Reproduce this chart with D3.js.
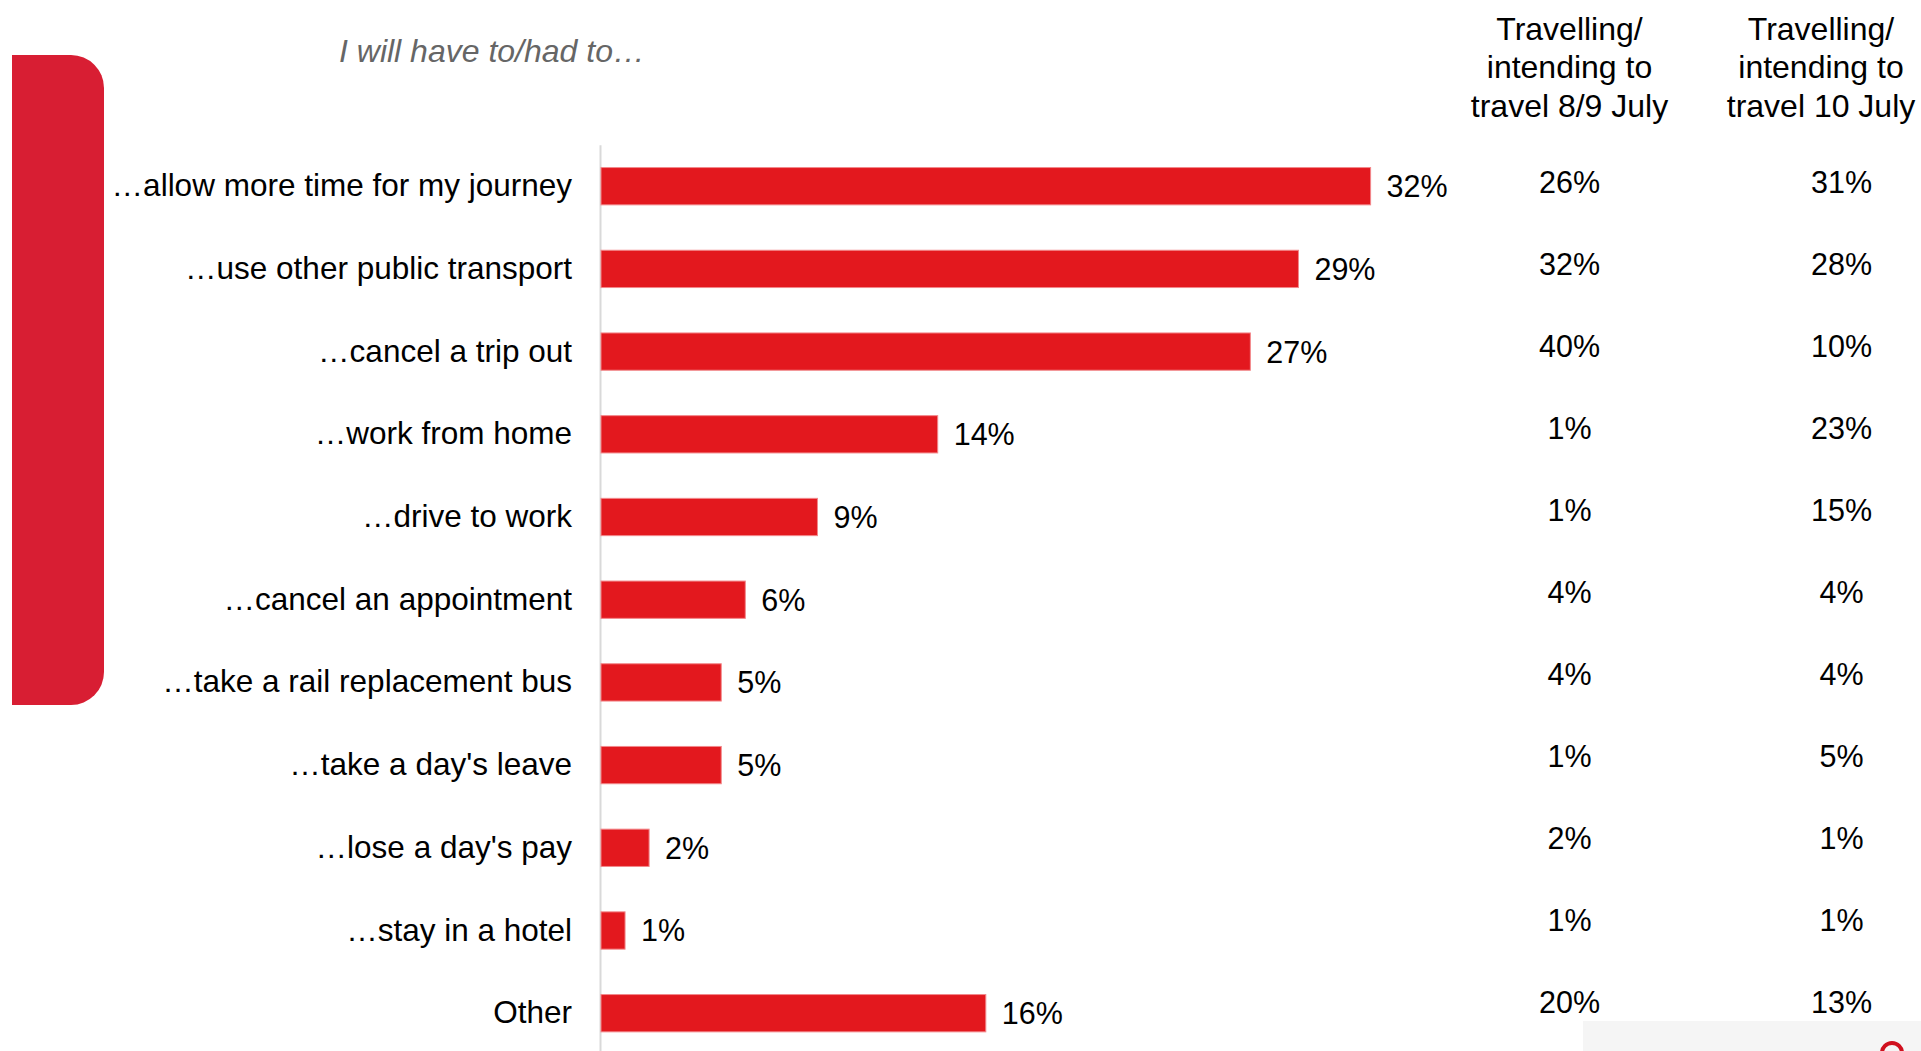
<!DOCTYPE html>
<html>
<head>
<meta charset="utf-8">
<script src="https://cdn.jsdelivr.net/npm/d3@7"></script>
<style>
  html, body { margin: 0; padding: 0; background: #ffffff; }
  svg { display: block; }
  text { font-family: "Liberation Sans", Arial, sans-serif; }
</style>
</head>
<body>
<svg id="chart" width="1921" height="1051"></svg>
<script>
// ---- data ----
const categories = [
  "\u2026allow more time for my journey",
  "\u2026use other public transport",
  "\u2026cancel a trip out",
  "\u2026work from home",
  "\u2026drive to work",
  "\u2026cancel an appointment",
  "\u2026take a rail replacement bus",
  "\u2026take a day's leave",
  "\u2026lose a day's pay",
  "\u2026stay in a hotel",
  "Other"
];
const overallValues = [32, 29, 27, 14, 9, 6, 5, 5, 2, 1, 16];
const july89Values  = [26, 32, 40, 1, 1, 4, 4, 1, 2, 1, 20];
const july10Values  = [31, 28, 10, 23, 15, 4, 4, 5, 1, 1, 13];
const columnHeaders = [
  ["Travelling/", "intending to", "travel 8/9 July"],
  ["Travelling/", "intending to", "travel 10 July"]
];
const subtitle = "I will have to/had to\u2026";

// ---- layout ----
const svg = d3.select("#chart");
const BAR = "#e3181e", SIDE = "#d81e33";

// side decoration (top-right & bottom-right rounded)
(function () {
  const x0 = 12, x1 = 104, y0 = 55, y1 = 705, r = 33;
  const p = d3.path();
  p.moveTo(x0, y0);
  p.lineTo(x1 - r, y0);
  p.arcTo(x1, y0, x1, y0 + r, r);
  p.lineTo(x1, y1 - r);
  p.arcTo(x1, y1, x1 - r, y1, r);
  p.lineTo(x0, y1);
  p.closePath();
  svg.append("path").attr("d", p.toString()).attr("fill", SIDE);
})();

svg.append("text")
  .attr("x", 339).attr("y", 62)
  .attr("font-size", 32).attr("font-style", "italic")
  .attr("fill", "#666666")
  .text(subtitle);

const x = d3.scaleLinear().domain([0, 40]).range([601, 601 + 962]);
const y = d3.scaleBand().domain(categories)
  .range([144.85, 1054.55]).paddingInner(0.549).paddingOuter(0.2745);

// axis with category labels
const axis = svg.append("g")
  .attr("transform", `translate(${x(0) - 1},0)`)
  .call(d3.axisLeft(y).tickSize(0).tickPadding(28));
axis.select(".domain").attr("stroke", "#d9d9d9").attr("stroke-width", 2);
axis.selectAll(".tick text")
  .attr("font-size", 31.5)
  .attr("font-family", "'Liberation Sans', Arial, sans-serif")
  .attr("fill", "#000");
// extend axis line to page bottom
svg.append("line")
  .attr("x1", x(0) - 1).attr("x2", x(0) - 1)
  .attr("y1", 1054).attr("y2", 1051)
  .attr("stroke", "#d9d9d9").attr("stroke-width", 2);

// bars
svg.append("g").selectAll("rect")
  .data(categories)
  .join("rect")
  .attr("x", x(0))
  .attr("y", d => y(d))
  .attr("width", (d, i) => x(overallValues[i]) - x(0))
  .attr("height", y.bandwidth())
  .attr("fill", BAR)
  .attr("stroke", "#f2888b")
  .attr("stroke-width", 1);

// bar value labels
svg.append("g").selectAll("text")
  .data(categories)
  .join("text")
  .attr("x", (d, i) => x(overallValues[i]) + 16)
  .attr("y", d => y(d) + y.bandwidth() / 2)
  .attr("dy", "0.36em")
  .attr("font-size", 30.5)
  .attr("fill", "#000")
  .text((d, i) => overallValues[i] + "%");

// right-hand table
const colX = d3.scaleOrdinal().domain([0, 1]).range([1569.5, 1841.5]);
const headX = d3.scaleOrdinal().domain([0, 1]).range([1569.5, 1821]);
const rowY = d3.scalePoint().domain(categories).range([193.3, 1013.3]);

columnHeaders.forEach((lines, c) => {
  const t = svg.append("text")
    .attr("text-anchor", "middle")
    .attr("font-size", 32)
    .attr("fill", "#000");
  lines.forEach((ln, k) => {
    t.append("tspan").attr("x", headX(c)).attr("y", 40 + k * 38.3).text(ln);
  });
});

[july89Values, july10Values].forEach((vals, c) => {
  svg.append("g").selectAll("text")
    .data(categories)
    .join("text")
    .attr("x", colX(c))
    .attr("y", d => rowY(d))
    .attr("text-anchor", "middle")
    .attr("font-size", 30.5)
    .attr("fill", "#000")
    .text((d, i) => vals[i] + "%");
});

// bottom-right footer fragment
svg.append("rect").attr("x", 1583).attr("y", 1021).attr("width", 338).attr("height", 30).attr("fill", "#f5f5f5");
svg.append("circle").attr("cx", 1892).attr("cy", 1053).attr("r", 10)
  .attr("fill", "none").attr("stroke", "#d0101e").attr("stroke-width", 4);
</script>
</body>
</html>
